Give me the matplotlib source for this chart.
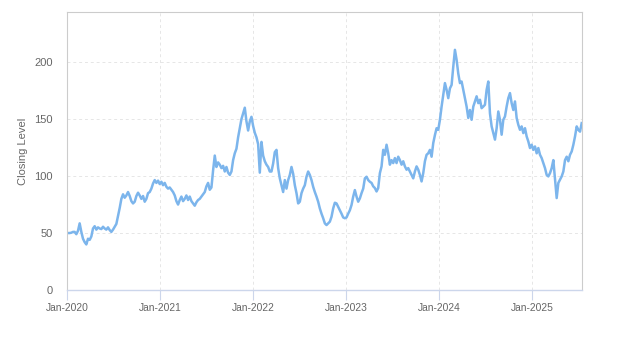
import matplotlib
matplotlib.use("Agg")
import matplotlib.pyplot as plt
import matplotlib.dates as mdates
import numpy as np
import pandas as pd

# Closing level, sampled about once a week (Jan 2020 - Jul 2025)
close_2020 = [50, 50, 50.3, 51, 51, 49, 52, 58.5, 51, 45,
              42, 40, 45, 44, 47, 54, 56, 53, 55, 54,
              53.5, 55.5, 54, 53, 55, 52.6, 51, 53, 55.5, 58,
              65, 72, 80, 84, 81, 83, 86, 82.5, 78, 76,
              77.5, 82.5, 85.4, 83, 80, 82.5, 77.5, 80, 85, 86,
              89, 93.5, 96.5, 94, 96, 93, 95, 92, 94, 90.6,
              89]
close_2021 = [90, 88, 86, 83, 78, 75, 79, 82, 78, 80,
              83, 79, 82, 78, 76, 74, 77, 79, 80, 82,
              84, 86, 91, 94, 88, 90, 105, 118, 108, 112,
              110, 107, 109, 104, 108, 103, 101, 104, 114, 120,
              124, 134, 142, 150, 155, 160, 148, 140, 148, 152,
              144, 138, 134, 128, 103, 130, 118, 113, 110, 108,
              104]
close_2022 = [104, 111, 121, 123, 107, 98, 92, 86, 96.5, 89,
              96.5, 101, 108, 102, 92, 85, 76, 77.5, 85, 89,
              92, 99.4, 104, 101, 96.5, 90.6, 86, 82, 77.5, 71.6,
              67, 63, 58.5, 57, 58.5, 60, 64.3, 71.6, 76.6, 76,
              73, 70, 67, 63.7, 63, 63.7, 67, 70, 74.6, 82,
              87.7, 82, 77.5, 80.4, 85, 89, 98, 99.4, 96.5, 95]
close_2023 = [94, 91, 89.5, 86.5, 89.5, 102.6, 108.5, 123, 118.7, 127.5,
              120, 110, 114, 111.4, 115.8, 111.4, 117, 114, 110, 113,
              108.5, 105.6, 107, 104, 101, 98, 104, 108.5, 105.6, 101,
              95.3, 102.6, 113, 118.7, 120, 123, 117, 129, 136, 142,
              140.6, 149.4, 161, 171, 181.6, 175.7, 168.4, 177, 180, 196,
              210.8, 202, 190, 181.6, 183, 175.7, 168.4, 161, 151, 158]
close_2024 = [149.4, 161, 165.5, 170, 164, 167, 159.6, 161, 162.6, 175.7,
              183, 155, 143.6, 137.7, 132, 142, 156.7, 149.4, 136.3, 149.4,
              152.3, 161, 168.4, 172.8, 164, 158, 165.5, 151, 145, 140.6,
              143.6, 137.7, 142, 134.8, 130.4, 124.6, 127.5, 123, 126, 120,
              124.6, 118.7, 115.8, 111.4, 107, 101, 99.7, 102.6, 107, 114,
              96.8, 80.7, 94, 96.8, 99.7, 104, 114, 117, 113, 118.7,
              121.6, 127.5, 134.8, 143.6, 140.6, 139, 146.5]

closing = close_2020 + close_2021 + close_2022 + close_2023 + close_2024
dates = pd.date_range("2020-01-05", "2025-07-14", periods=len(closing))

y_ticks = [0, 50, 100, 150, 200]
x_ticks = pd.to_datetime(["2020-01-01", "2021-01-01", "2022-01-01",
                          "2023-01-01", "2024-01-01", "2025-01-01"])

plt.rcParams["font.family"] = ["Liberation Sans", "DejaVu Sans"]

fig = plt.figure(figsize=(6.23, 3.5), dpi=100)
ax = fig.add_axes([0.1075, 0.1714, 0.8262, 0.7943])

ax.plot(dates, closing, color="#7cb5ec", linewidth=1.8, solid_joinstyle="round")

ax.set_xlim(pd.Timestamp("2020-01-01"), pd.Timestamp("2025-07-14"))
ax.set_ylim(0, 244)

ax.set_yticks(y_ticks)
ax.set_xticks(x_ticks)
ax.xaxis.set_major_formatter(mdates.DateFormatter("%b-%Y"))

# Grid and frame
ax.grid(True, color="#e6e6e6", linestyle=(0, (3, 3)), linewidth=0.7)
ax.set_axisbelow(True)
for side in ["top", "right", "left"]:
    ax.spines[side].set_color("#cccccc")
    ax.spines[side].set_linewidth(0.8)
ax.spines["bottom"].set_color("#ccd6eb")
ax.spines["bottom"].set_linewidth(1.0)

ax.tick_params(axis="x", length=7.2, width=0.8, color="#ccd6eb",
               labelsize=7.4, labelcolor="#666666", pad=2)
ax.tick_params(axis="y", length=0, labelsize=8, labelcolor="#666666", pad=10)

ax.set_ylabel("Closing Level", fontsize=8, color="#666666", labelpad=12)
ax.yaxis.set_label_coords(-0.075, 0.5)

fig.savefig("out.png", dpi=100)
